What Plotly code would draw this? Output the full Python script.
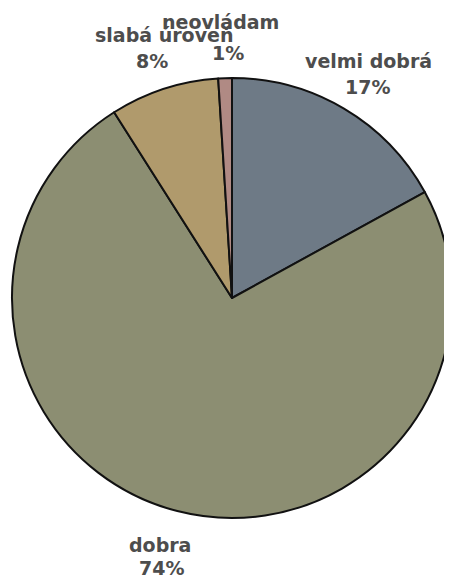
import plotly.graph_objects as go

labels = ["velmi dobrá", "dobra", "slabá úroveň", "neovládam"]
values = [17, 74, 8, 1]
colors = ["#6E7A86", "#8C8E72", "#B09A6C", "#B08A84"]

W, H = 452, 583
OFF = 8  # page body margin: figure coords = screen coords - 8
cx, cy, r = 232 - OFF, 298 - OFF, 220

fig = go.Figure(go.Pie(
    labels=labels, values=values, sort=False, direction="clockwise",
    rotation=0, textinfo="none", hoverinfo="label+percent",
    marker=dict(colors=colors, line=dict(color="#111111", width=2)),
    domain=dict(x=[(cx - r) / W, (cx + r) / W], y=[(H - cy - r) / H, (H - cy + r) / H]),
    showlegend=False,
))

# screen positions: (name x, name y, name anchor, pct x, pct y)
label_pos = [
    (368, 61, "center", 367, 87),
    (160, 545, "center", 161, 568),
    (93, 35, "left", 152, 61),
    (220, 22, "center", 228, 53),
]
total = sum(values)
font = dict(family="DejaVu Sans", size=19, color="#4d4d4d", weight="bold")
for lab, v, (nx, ny, na, px, py) in zip(labels, values, label_pos):
    pct = round(100 * v / total)
    fig.add_annotation(x=(nx - OFF) / W, y=1 - (ny - OFF) / H, xref="paper", yref="paper",
                       text=lab, showarrow=False, font=font, xanchor=na, yanchor="middle")
    fig.add_annotation(x=(px - OFF) / W, y=1 - (py - OFF) / H, xref="paper", yref="paper",
                       text=f"{pct}%", showarrow=False, font=font, xanchor="center", yanchor="middle")

fig.update_layout(
    width=W, height=H, margin=dict(l=0, r=0, t=0, b=0),
    paper_bgcolor="white", plot_bgcolor="white",
)
fig.write_html("out.html")
